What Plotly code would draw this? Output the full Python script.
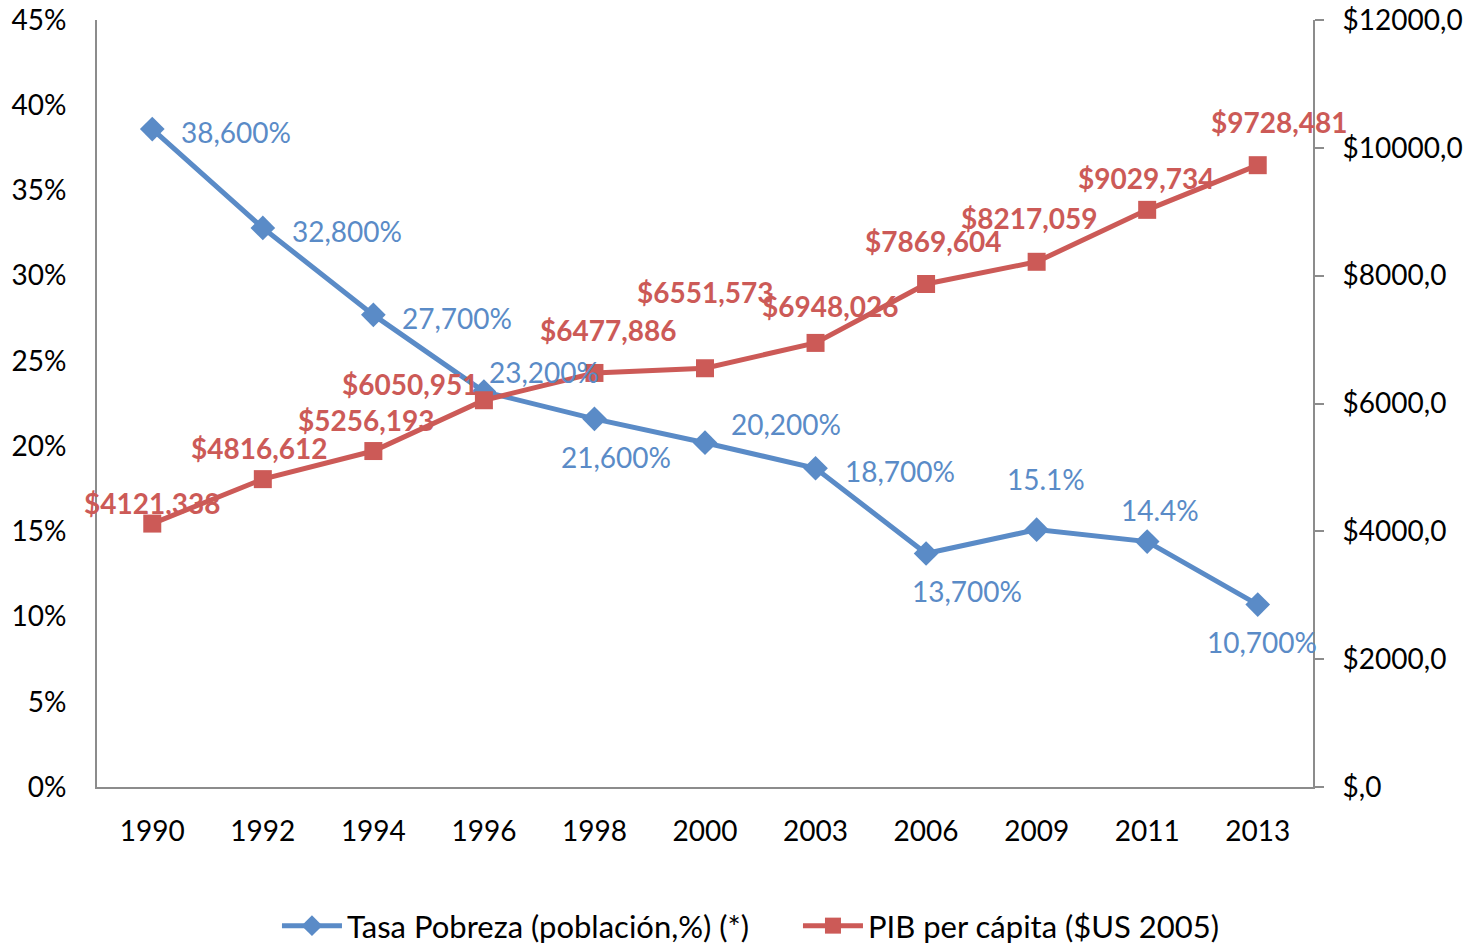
import plotly.graph_objects as go

years = ["1990", "1992", "1994", "1996", "1998", "2000", "2003", "2006", "2009", "2011", "2013"]
pobreza = [38.6, 32.8, 27.7, 23.2, 21.6, 20.2, 18.7, 13.7, 15.1, 14.4, 10.7]
pobreza_labels = ["38,600%", "32,800%", "27,700%", "23,200%", "21,600%", "20,200%",
                  "18,700%", "13,700%", "15.1%", "14.4%", "10,700%"]
pib = [4121.338, 4816.612, 5256.193, 6050.951, 6477.886, 6551.573, 6948.026,
       7869.604, 8217.059, 9029.734, 9728.481]
pib_labels = ["$4121,338", "$4816,612", "$5256,193", "$6050,951", "$6477,886", "$6551,573",
              "$6948,026", "$7869,604", "$8217,059", "$9029,734", "$9728,481"]
left_ticks = [0, 5, 10, 15, 20, 25, 30, 35, 40, 45]
left_ticktext = ["0%", "5%", "10%", "15%", "20%", "25%", "30%", "35%", "40%", "45%"]
right_ticks = [0, 2000, 4000, 6000, 8000, 10000, 12000]
right_ticktext = ["$,0", "$2000,0", "$4000,0", "$6000,0", "$8000,0", "$10000,0", "$12000,0"]

# label offsets in pixels (dx, dy) ; dy positive = up
blue_off = [(84, -3), (84, -3), (84, -3), (60, 20), (22, -38), (81, 19), (84, -3),
            (41, -38), (9, 51), (13, 32), (4, -37)]
red_off = [(0, 21), (-4, 31), (-7, 31), (-74, 16), (14, 43), (0, 76), (14, 37),
           (7, 43), (-8, 44), (-1, 32), (21, 43)]

BLUE = "#5A8BC7"
RED = "#CC5A57"
GRAY = "#8C8C8C"
FONT = "Lato"

fig = go.Figure()
fig.add_trace(go.Scatter(
    x=years, y=pobreza, name="Tasa Pobreza (población,%) (*)", mode="lines+markers",
    line=dict(color=BLUE, width=5), marker=dict(symbol="diamond", size=19, color=BLUE),
    yaxis="y"))
fig.add_trace(go.Scatter(
    x=years, y=pib, name="PIB per cápita ($US 2005)", mode="lines+markers",
    line=dict(color=RED, width=5), marker=dict(symbol="square", size=18, color=RED),
    yaxis="y2"))

annotations = []
for i, yr in enumerate(years):
    dx, dy = blue_off[i]
    annotations.append(dict(x=i, y=pobreza[i], xref="x", yref="y", text=pobreza_labels[i],
                            showarrow=False, xshift=dx, yshift=dy,
                            font=dict(family=FONT, size=28, color=BLUE)))
    dx, dy = red_off[i]
    annotations.append(dict(x=i, y=pib[i], xref="x", yref="y2", text="<b>" + pib_labels[i] + "</b>",
                            showarrow=False, xshift=dx, yshift=dy,
                            font=dict(family=FONT, size=28, color=RED)))

fig.update_layout(
    width=1480, height=947,
    margin=dict(l=97, r=167, t=20, b=160, autoexpand=False),
    paper_bgcolor="white", plot_bgcolor="white",
    font=dict(family=FONT, size=28, color="black"),
    showlegend=True,
    legend=dict(orientation="h", x=0.148, xanchor="left", y=-0.146, yanchor="top",
                font=dict(family=FONT, size=31, color="black"), itemwidth=60,
                entrywidth=446, entrywidthmode="pixels", tracegroupgap=0),
    xaxis=dict(type="category", range=[-0.5, 10.5], showgrid=False, showline=True,
               linecolor=GRAY, linewidth=2, ticks="", ticklabelstandoff=18, automargin=False,
               tickfont=dict(family=FONT, size=28, color="black")),
    yaxis=dict(range=[0, 45], tickvals=left_ticks, ticktext=left_ticktext, showgrid=False,
               showline=True, linecolor=GRAY, linewidth=2, ticks="", zeroline=False,
               automargin=False,
               ticklabelstandoff=23, tickfont=dict(family=FONT, size=28, color="black")),
    yaxis2=dict(range=[0, 12000], tickvals=right_ticks, ticktext=right_ticktext, overlaying="y",
                side="right", showgrid=False, showline=True, linecolor=GRAY, linewidth=2,
                ticks="outside", ticklen=9, tickwidth=2, tickcolor=GRAY, zeroline=False,
                automargin=False,
                ticklabelstandoff=13, tickfont=dict(family=FONT, size=28, color="black")),
    annotations=annotations,
)

fig.write_html("out.html", config={"displayModeBar": False},
               post_script="document.body.style.margin='0';document.body.style.overflow='hidden';")
